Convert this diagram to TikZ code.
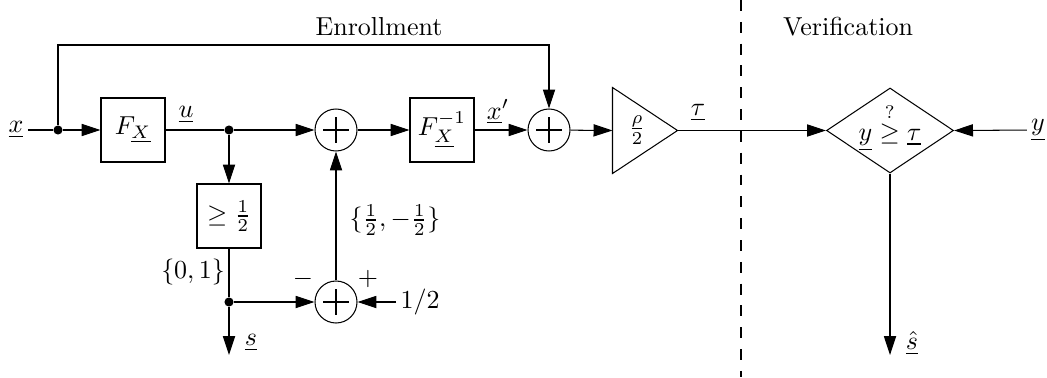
\documentclass[tikz,border=0pt]{standalone}
\usetikzlibrary{arrows.meta,shapes.geometric}
\begin{document}
\begin{tikzpicture}[x=0.385pt,y=-0.385pt, line width=0.4pt,
  blk/.style={draw, minimum size={64*0.385pt}, inner sep=0pt},
  sumn/.style={draw, circle, minimum size={42*0.385pt}, inner sep=0pt,
    path picture={
      \draw ([xshift=-5pt]path picture bounding box.center) -- ([xshift=5pt]path picture bounding box.center);
      \draw ([yshift=-5pt]path picture bounding box.center) -- ([yshift=5pt]path picture bounding box.center);}},
  dotn/.style={circle, fill, inner sep=0pt, minimum size=3.5pt},
  lbl/.style={inner sep=1.5pt},
  arr/.style={-{Triangle[length=7.3pt,width=4.7pt]}},
  ]
\useasboundingbox (0,0) rectangle (1047,377);

% blocks
\node[blk] (fx) at (133,130) {$F_{\underline{X}}$};
\node[blk] (fxi) at (442,130) {$F_{\underline{X}}^{-1}$};
\node[blk] (thr) at (229,216) {$\geq\frac{1}{2}$};
\node[sumn] (s1) at (336,130) {};
\node[sumn] (s2) at (549,130) {};
\node[sumn] (s3) at (336,302) {};
\node[dotn] (d1) at (58,130) {};
\node[dotn] (d2) at (229,130) {};
\node[dotn] (d3) at (229,302) {};

% amplifier
\node[minimum width={64*0.385pt}, minimum height={85*0.385pt}, inner sep=0pt] (amp) at (645,130.5) {};
\draw (amp.north west) -- (amp.east) -- (amp.south west) -- cycle;
\node at (637,130) {$\frac{\rho}{2}$};

% decision
\node[draw, diamond, minimum width={127*0.385pt}, minimum height={85*0.385pt}, inner sep=0pt] (dec) at (890,130.5) {};
\node at (890,127) {$\underline{y}\stackrel{?}{\geq}\underline{\tau}$};

% inputs / outputs
\node[lbl] (xin) at (16,130) {$\underline{x}$};
\node[lbl] (yin) at (1038,130) {$\underline{y}$};
\node[lbl] (half) at (420,302) {$1/2$};
\coordinate (sout) at (229,355);
\coordinate (shat) at (890,355);
\coordinate (top) at (549,45);

% labels
\node at (251,343) {$\underline{s}$};
\node at (912,343) {$\underline{\hat{s}}$};
\node at (186,115) {$\underline{u}$};
\node at (498,112) {$\underline{x}'$};
\node at (698,113) {$\underline{\tau}$};
\node at (193,272) {$\{0,1\}$};
\node at (303,279) {$-$};
\node at (368,279) {$+$};
\node at (395,220) {$\{\frac{1}{2},-\frac{1}{2}\}$};
\node at (379,27) {Enrollment};
\node at (848,27) {Verification};

% connectors
\draw (xin) -- (d1);
\draw[arr] (d1) -- (fx);
\draw (fx) -- (d2);
\draw[arr] (d2) -- (s1);
\draw[arr] (d2) -- (thr);
\draw[arr] (s1) -- (fxi);
\draw[arr] (fxi) -- (s2);
\draw[arr] (d1) |- (top) -- (s2);
\draw[arr] (s2) -- (amp.west);
\draw[arr] (amp.east) -- (dec.west);
\draw[arr] (yin) -- (dec.east);
\draw[arr] (dec.south) -- (shat);
\draw (thr) -- (d3);
\draw[arr] (d3) -- (sout);
\draw[arr] (d3) -- (s3);
\draw[arr] (half) -- (s3);
\draw[arr] (s3) -- (s1);
\draw[dash pattern=on 4.2pt off 4.2pt] (741,0) -- (741,377);
\end{tikzpicture}
\end{document}
